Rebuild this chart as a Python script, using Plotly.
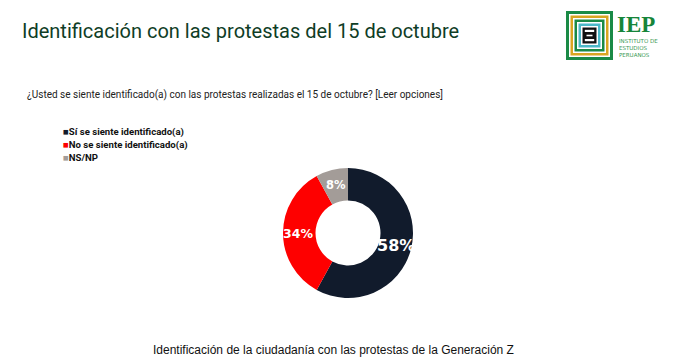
import math
import plotly.graph_objects as go

W, H = 679, 360

categories = ["Sí se siente identificado(a)", "No se siente identificado(a)", "NS/NP"]
values = [58, 34, 8]
colors = ["#111b2c", "#fe0000", "#a39c98"]
label_sizes = [16, 12.5, 11.5]

title = "Identificación con las protestas del 15 de octubre"
question = "¿Usted se siente identificado(a) con las protestas realizadas el 15 de octubre? [Leer opciones]"
caption = "Identificación de la ciudadanía con las protestas de la Generación Z"


def px(x):
    return x / W


def py(y):
    return 1 - y / H


cx, cy, r = 348, 233, 65
hole = 0.5

fig = go.Figure(go.Pie(
    labels=categories,
    values=values,
    textinfo="none",
    hole=hole,
    sort=False,
    direction="clockwise",
    rotation=0,
    marker=dict(colors=colors, line=dict(width=0)),
    hoverinfo="label+percent",
    showlegend=False,
    domain=dict(x=[px(cx - r), px(cx + r)], y=[py(cy + r), py(cy - r)]),
))

annotations = [
    dict(text=title, x=px(20), y=py(31), xref="paper", yref="paper",
         xanchor="left", yanchor="middle", showarrow=False,
         font=dict(family="Roboto", size=20, color="#0f3d26")),
    dict(text=question, x=px(25), y=py(95), xref="paper", yref="paper",
         xanchor="left", yanchor="middle", showarrow=False,
         font=dict(family="Roboto", size=10, color="#222222")),
    dict(text=caption, x=px(333), y=py(350), xref="paper", yref="paper",
         xanchor="center", yanchor="middle", showarrow=False,
         font=dict(family="Liberation Sans", size=12, color="#111111")),
]

# Slice percentage labels placed at each slice's mid-angle on the ring
total = sum(values)
cum = 0
rmid = r * (1 + hole) / 2 + 1
for v, s in zip(values, label_sizes):
    ang = math.radians((cum + v / 2) / total * 360)
    cum += v
    lx = cx + rmid * math.sin(ang)
    ly = cy - rmid * math.cos(ang)
    annotations.append(dict(text=f"<b>{v}%</b>", x=px(lx), y=py(ly), xref="paper", yref="paper",
                            xanchor="center", yanchor="middle", showarrow=False,
                            font=dict(family="DejaVu Sans", size=s, color="white")))

for i, (cat, col) in enumerate(zip(categories, colors)):
    annotations.append(dict(
        text=f"<span style='color:{col}'>■</span><b>{cat}</b>",
        x=px(61), y=py(132 + i * 12.5), xref="paper", yref="paper",
        xanchor="left", yanchor="middle", showarrow=False,
        font=dict(family="Roboto", size=9.6, color="#111111")))

# Logo text
annotations.append(dict(text="IEP", x=px(615), y=py(25), xref="paper", yref="paper",
                        xanchor="left", yanchor="middle", showarrow=False,
                        font=dict(family="Liberation Serif", size=23, color="#16853a", weight="bold")))
for j, t in enumerate(["INSTITUTO DE", "ESTUDIOS", "PERUANOS"]):
    annotations.append(dict(text=t, x=px(617), y=py(41 + j * 7), xref="paper", yref="paper",
                            xanchor="left", yanchor="middle", showarrow=False,
                            font=dict(family="DejaVu Sans", size=5.5, color="#3c9a55")))

# Logo icon: concentric rectangles
shapes = []
x0, y0, x1, y1 = 566, 11, 613, 60
layers = [(0, "#1a8a46"), (3, "white"), (4.5, "#d9a521"), (7, "white"), (8.5, "#1a8a46"),
          (11, "white"), (12.5, "#4cb9c9"), (15, "white"), (16.5, "#111111"), (18.8, "white")]
for inset, col in layers:
    shapes.append(dict(type="rect", xref="paper", yref="paper",
                       x0=px(x0 + inset), x1=px(x1 - inset), y0=py(y1 - inset), y1=py(y0 + inset),
                       fillcolor=col, line=dict(width=0), layer="above"))
shapes.append(dict(type="rect", xref="paper", yref="paper",
                   x0=px(584), x1=px(595), y0=py(39), y1=py(32),
                   fillcolor="#111111", line=dict(width=0), layer="above"))
shapes.append(dict(type="rect", xref="paper", yref="paper",
                   x0=px(586.5), x1=px(592.5), y0=py(36.3), y1=py(34.7),
                   fillcolor="white", line=dict(width=0), layer="above"))

fig.update_layout(
    width=W, height=H,
    margin=dict(l=0, r=0, t=0, b=0),
    paper_bgcolor="white",
    plot_bgcolor="white",
    annotations=annotations,
    shapes=shapes,
)

fig.write_html("out.html", config={"displayModeBar": False},
               post_script="document.body.style.margin='0';document.body.style.overflow='hidden';")
